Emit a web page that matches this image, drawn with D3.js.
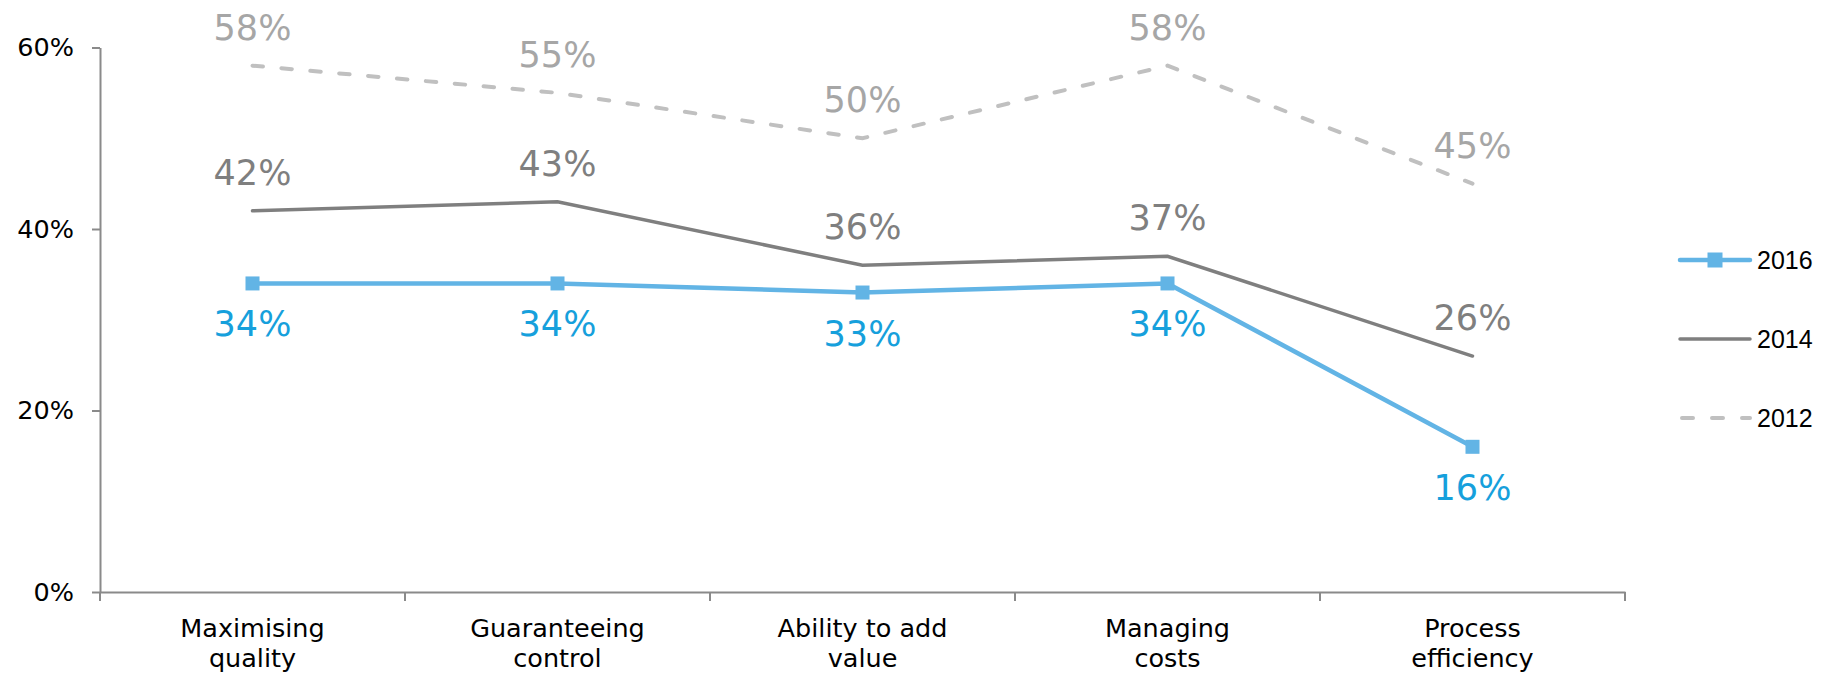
<!DOCTYPE html>
<html>
<head>
<meta charset="utf-8">
<script src="https://cdn.jsdelivr.net/npm/d3@7"></script>
<style>
  html, body { margin: 0; padding: 0; background: #ffffff; }
  svg { display: block; }
</style>
</head>
<body>
<svg id="chart" width="1824" height="675"></svg>
<script>
const categories = [["Maximising", "quality"], ["Guaranteeing", "control"], ["Ability to add", "value"], ["Managing", "costs"], ["Process", "efficiency"]];
const categoryKeys = categories.map(c => c.join(" "));
const values2016 = [34, 34, 33, 34, 16];
const values2014 = [42, 43, 36, 37, 26];
const values2012 = [58, 55, 50, 58, 45];
const yTicks = [0, 20, 40, 60];
const seriesNames = ["2016", "2014", "2012"];

const svg = d3.select("#chart");
const plotLeft = 100, plotRight = 1625, plotTop = 47.5, plotBottom = 592;

const x = d3.scaleBand().domain(categoryKeys).range([plotLeft, plotRight]);
const y = d3.scaleLinear().domain([0, 60]).range([plotBottom, plotTop]);
const cx = k => x(k) + x.bandwidth() / 2;

const axisColor = "#8a8a8a";
const font = "'DejaVu Sans', Verdana, sans-serif";

// Y axis
const yAxis = svg.append("g")
  .attr("transform", `translate(${plotLeft},0)`)
  .call(d3.axisLeft(y).tickValues(yTicks).tickSize(8).tickSizeOuter(0).tickPadding(18).tickFormat(d => d + "%"));
yAxis.selectAll("path.domain").attr("stroke", axisColor).attr("stroke-width", 2);
yAxis.selectAll(".tick line").attr("stroke", axisColor).attr("stroke-width", 2);
yAxis.selectAll(".tick text").attr("font-family", font).attr("font-size", 25.5).attr("fill", "#000");

// X axis
const xAxis = svg.append("g")
  .attr("transform", `translate(0,${plotBottom})`)
  .call(d3.axisBottom(x).tickSize(0).tickSizeOuter(0).tickFormat(""));
xAxis.selectAll("path.domain").attr("stroke", axisColor).attr("stroke-width", 2);
const bounds = categoryKeys.map(k => x(k)).concat([x.range()[1]]);
xAxis.selectAll("line.bound").data(bounds).enter().append("line")
  .attr("class", "bound")
  .attr("x1", d => d).attr("x2", d => d)
  .attr("y1", 0).attr("y2", 9)
  .attr("stroke", axisColor).attr("stroke-width", 2);

const xl = svg.append("g");
categories.forEach((c, i) => {
  const t = xl.append("text")
    .attr("x", cx(categoryKeys[i]))
    .attr("text-anchor", "middle")
    .attr("font-family", font).attr("font-size", 25.5).attr("fill", "#000");
  c.forEach((ln, j) => {
    t.append("tspan").attr("x", cx(categoryKeys[i])).attr("y", 637 + j * 29.5).text(ln);
  });
});

const line = d3.line().x((d, i) => cx(categoryKeys[i])).y(d => y(d));

// 2012 dashed
svg.append("path").datum(values2012)
  .attr("d", line).attr("fill", "none")
  .attr("stroke", "#c0c0c0").attr("stroke-width", 4)
  .attr("stroke-dasharray", "10.5,18.5").attr("stroke-linecap", "round");

// 2014 solid gray
svg.append("path").datum(values2014)
  .attr("d", line).attr("fill", "none")
  .attr("stroke", "#7f7f7f").attr("stroke-width", 3.5).attr("stroke-linecap", "round");

// 2016 blue with square markers
svg.append("path").datum(values2016)
  .attr("d", line).attr("fill", "none")
  .attr("stroke", "#62b4e5").attr("stroke-width", 4.5).attr("stroke-linejoin", "round");
const ms = 14;
svg.selectAll("rect.m16").data(values2016).enter().append("rect")
  .attr("class", "m16")
  .attr("x", (d, i) => cx(categoryKeys[i]) - ms / 2)
  .attr("y", d => y(d) - ms / 2)
  .attr("width", ms).attr("height", ms)
  .attr("fill", "#62b4e5");

// Data labels
const lblSize = 35;
function labels(vals, color, dy) {
  svg.append("g").selectAll("text").data(vals).enter().append("text")
    .attr("x", (d, i) => cx(categoryKeys[i]))
    .attr("y", d => y(d) + dy)
    .attr("text-anchor", "middle")
    .attr("font-family", font).attr("font-size", lblSize)
    .attr("fill", color)
    .text(d => d + "%");
}
labels(values2012, "#a6a6a6", -26);
labels(values2014, "#7f7f7f", -26);
labels(values2016, "#16a0dc", 53);

// Legend
const legY = [260, 339, 418];
const lg = svg.append("g");
const lx1 = 1680, lx2 = 1750;
lg.append("line").attr("x1", lx1).attr("x2", lx2).attr("y1", legY[0]).attr("y2", legY[0])
  .attr("stroke", "#62b4e5").attr("stroke-width", 4.5).attr("stroke-linecap", "round");
lg.append("rect").attr("x", (lx1 + lx2) / 2 - 7.5).attr("y", legY[0] - 7.5).attr("width", 15).attr("height", 15).attr("fill", "#62b4e5");
lg.append("line").attr("x1", lx1).attr("x2", lx2).attr("y1", legY[1]).attr("y2", legY[1])
  .attr("stroke", "#7f7f7f").attr("stroke-width", 3.5).attr("stroke-linecap", "round");
lg.append("line").attr("x1", lx1 + 2).attr("x2", lx2).attr("y1", legY[2]).attr("y2", legY[2])
  .attr("stroke", "#c0c0c0").attr("stroke-width", 4)
  .attr("stroke-dasharray", "11,19").attr("stroke-linecap", "round");
lg.selectAll("text").data(seriesNames).enter().append("text")
  .attr("x", 1757).attr("y", (d, i) => legY[i] + 9)
  .attr("font-family", "'Liberation Sans', Arial, sans-serif").attr("font-size", 25)
  .attr("fill", "#000").text(d => d);
</script>
</body>
</html>
